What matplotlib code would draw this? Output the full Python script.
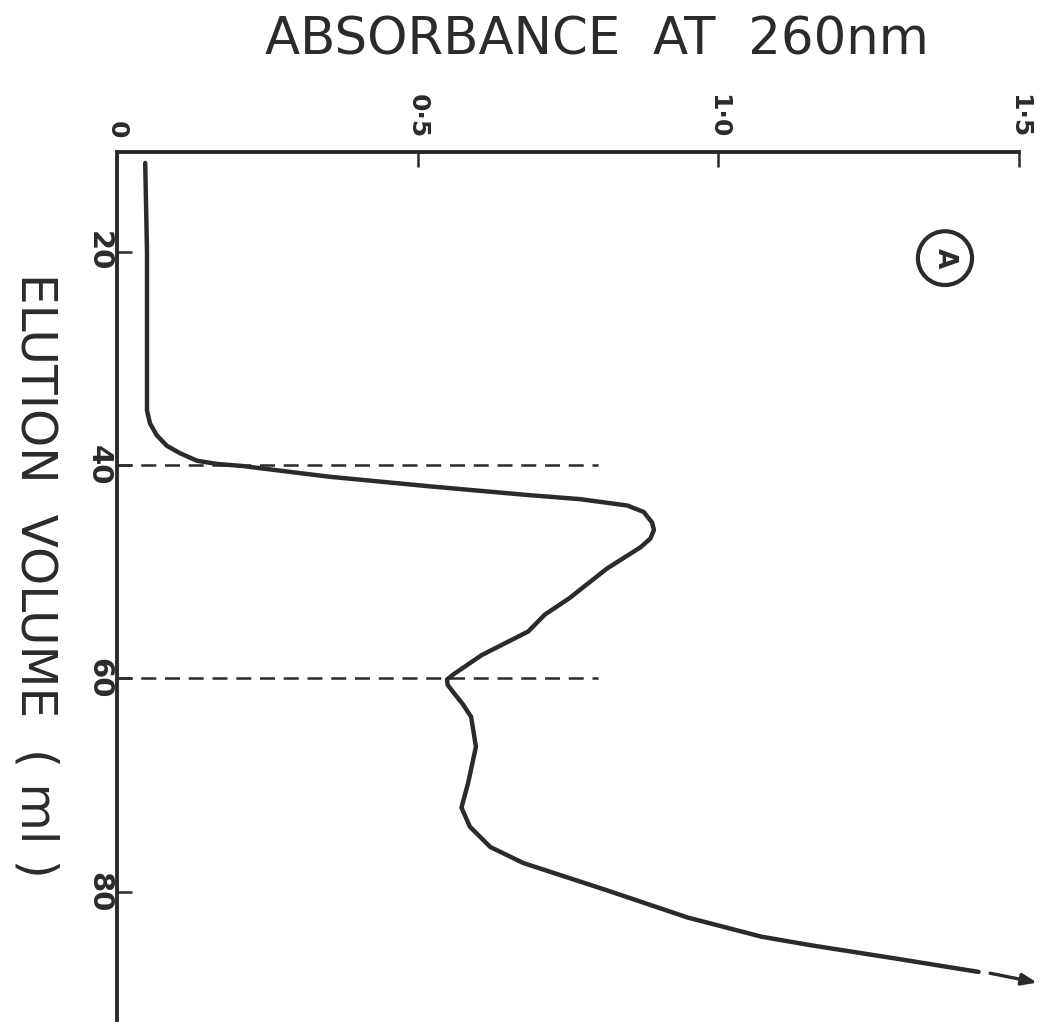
# elution profile, absorbance at 260 nm vs elution volume (drawn sideways)

import numpy as np
import matplotlib.pyplot as plt
from matplotlib.patches import Ellipse

ink = "#2b2b2b"

# elution volume (ml) and absorbance
volume = [11.7, 20.0, 33.0, 34.9, 36.1, 37.2, 38.2, 38.9, 39.6, 39.9, 40.1,
          40.3, 41.1, 42.0, 42.8, 43.2, 43.8, 44.4, 45.4, 46.1, 46.9, 47.7,
          49.7, 52.5, 54.0, 55.6, 57.8, 59.6, 60.1, 60.6, 61.2, 62.4, 63.6,
          66.4, 69.8, 72.1, 73.9, 75.8, 77.3, 79.8, 82.4, 84.2, 85.0, 86.2,
          87.5]
absorbance = [0.047, 0.050, 0.050, 0.050, 0.055, 0.066, 0.083, 0.105, 0.133,
              0.166, 0.210, 0.238, 0.353, 0.520, 0.680, 0.770, 0.849, 0.876,
              0.890, 0.893, 0.887, 0.871, 0.815, 0.752, 0.712, 0.684, 0.607,
              0.560, 0.549, 0.550, 0.558, 0.575, 0.589, 0.597, 0.584, 0.573,
              0.587, 0.621, 0.676, 0.812, 0.949, 1.072, 1.154, 1.290, 1.433]

# fraction cut-offs
cut_volumes = [40, 60]
cut_reach = 0.80

abs_ticks = [0, 0.5, 1.0, 1.5]
abs_labels = ["0", "0·5", "1·0", "1·5"]
vol_ticks = [20, 40, 60, 80]
vol_labels = ["20", "40", "60", "80"]

fig = plt.figure(figsize=(10.44, 10.22), dpi=100)
ax = fig.add_axes([0.112, 0.002, 0.864, 0.849])

ax.plot(absorbance, volume, color=ink, lw=3.2, solid_capstyle="round",
        solid_joinstyle="round", clip_on=False)

for v in cut_volumes:
    ax.plot([0, cut_reach], [v, v], color=ink, lw=1.8, ls=(0, (6, 3.5)))

# trace runs off scale
ax.annotate("", xy=(1.53, 88.5), xytext=(1.452, 87.62),
            arrowprops=dict(arrowstyle="-|>,head_length=0.9,head_width=0.35",
                            color=ink, lw=2.4, shrinkA=0, shrinkB=0),
            annotation_clip=False)

# panel marker
ax.add_patch(Ellipse((0.918, 0.878), 0.060, 0.062, transform=ax.transAxes,
                     fill=False, ec=ink, lw=3.0))
ax.text(0.918, 0.878, "A", transform=ax.transAxes, rotation=-90,
        ha="center", va="center", fontsize=19, fontweight="bold", color=ink)

ax.set_xlim(0, 1.5)
ax.set_ylim(92, 10.7)

for side in ["right", "bottom"]:
    ax.spines[side].set_visible(False)
for side in ["top", "left"]:
    ax.spines[side].set_linewidth(2.8)
    ax.spines[side].set_color(ink)

ax.xaxis.tick_top()
ax.set_xticks(abs_ticks)
ax.set_xticklabels(abs_labels, rotation=-90, fontsize=18, fontweight="bold",
                   color=ink)
ax.set_yticks(vol_ticks)
ax.set_yticklabels(vol_labels, rotation=-90, fontsize=21, fontweight="bold",
                   color=ink, va="center")
ax.tick_params(axis="both", direction="in", length=11, width=1.8, color=ink,
               pad=10)
ax.tick_params(axis="y", pad=3)

fig.text(0.572, 0.96, "ABSORBANCE  AT  260nm", ha="center", va="center",
         fontsize=37, color=ink)
fig.text(0.034, 0.437, "ELUTION  VOLUME  ( ml )", ha="center", va="center",
         rotation=-90, fontsize=35, color=ink)

fig.savefig("out.png", dpi=100)
